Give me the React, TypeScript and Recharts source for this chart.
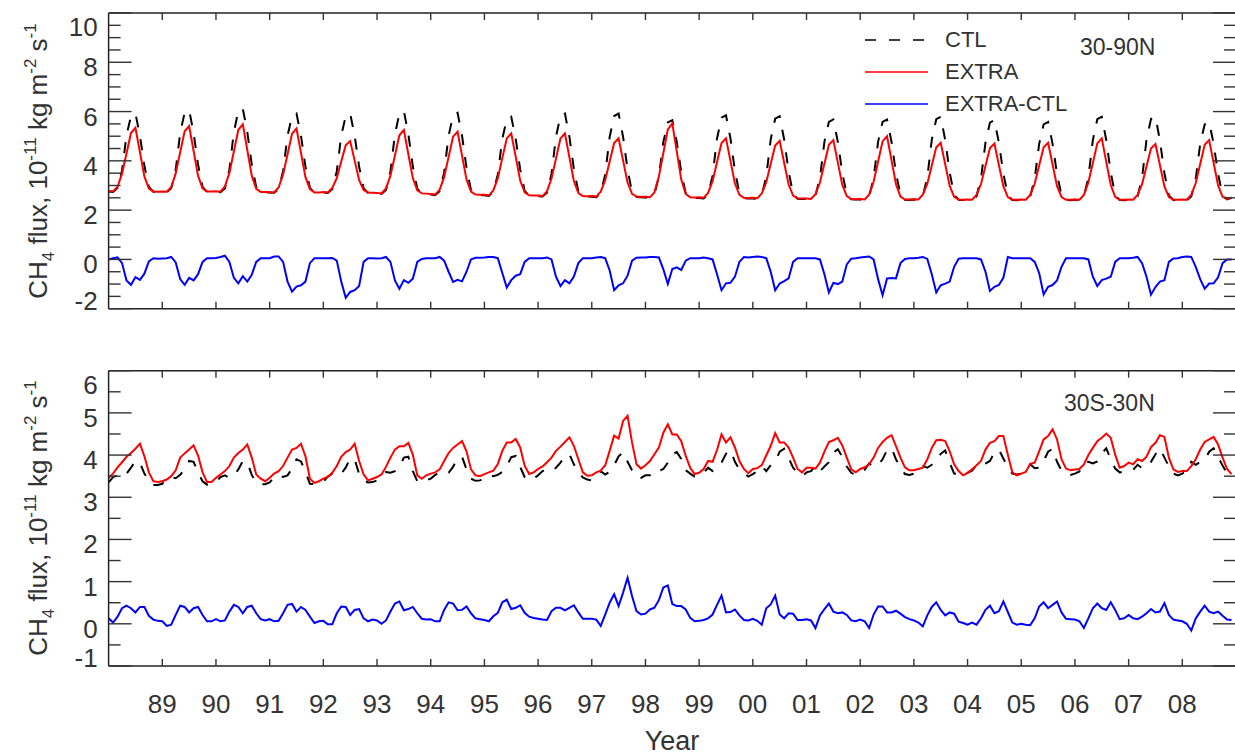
import React from 'react';
import { LineChart, Line, XAxis, YAxis, Legend } from 'recharts';

const YEARS = [1988, 1989, 1990, 1991, 1992, 1993, 1994, 1995, 1996, 1997, 1998, 1999, 2000, 2001, 2002, 2003, 2004, 2005, 2006, 2007, 2008];
const X_TICKS = [1989, 1990, 1991, 1992, 1993, 1994, 1995, 1996, 1997, 1998, 1999, 2000, 2001, 2002, 2003, 2004, 2005, 2006, 2007, 2008];
const X_LABELS = ['89', '90', '91', '92', '93', '94', '95', '96', '97', '98', '99', '00', '01', '02', '03', '04', '05', '06', '07', '08'];
const NORTH_Y_TICKS = [-2, -1.5, -1, -0.5, 0, 0.5, 1, 1.5, 2, 2.5, 3, 3.5, 4, 4.5, 5, 5.5, 6, 6.5, 7, 7.5, 8, 8.5, 9, 9.5, 10];
const TROP_Y_TICKS = [-1, -0.5, 0, 0.5, 1, 1.5, 2, 2.5, 3, 3.5, 4, 4.5, 5, 5.5, 6];

// 30-90N, one row per year, Jan..Dec
const northCtl = [
  [2.76, 2.74, 2.9, 3.61, 5.03, 5.82, 5.92, 5.03, 3.8, 2.94, 2.75, 2.74],
  [2.75, 2.73, 2.89, 3.64, 5.13, 5.96, 6.06, 5.13, 3.84, 2.94, 2.74, 2.74],
  [2.75, 2.73, 2.88, 3.65, 5.17, 6.02, 6.12, 5.17, 3.85, 2.93, 2.73, 2.72],
  [2.72, 2.71, 2.86, 3.58, 5.02, 5.82, 5.92, 5.02, 3.77, 2.9, 2.71, 2.7],
  [2.72, 2.7, 2.85, 3.57, 5.02, 5.82, 5.92, 5.02, 3.76, 2.89, 2.7, 2.69],
  [2.68, 2.66, 2.82, 3.57, 5.08, 5.92, 6.02, 5.08, 3.78, 2.87, 2.67, 2.66],
  [2.63, 2.61, 2.77, 3.52, 5.02, 5.85, 5.95, 5.02, 3.72, 2.82, 2.62, 2.61],
  [2.6, 2.58, 2.74, 3.45, 4.89, 5.69, 5.79, 4.89, 3.65, 2.78, 2.59, 2.58],
  [2.57, 2.55, 2.71, 3.47, 4.98, 5.82, 5.92, 4.98, 3.67, 2.76, 2.56, 2.55],
  [2.54, 2.52, 2.68, 3.45, 4.97, 5.82, 5.92, 4.97, 3.65, 2.73, 2.53, 2.52],
  [2.51, 2.49, 2.65, 3.35, 4.77, 5.56, 5.65, 4.77, 3.54, 2.69, 2.5, 2.49],
  [2.49, 2.47, 2.63, 3.39, 4.91, 5.75, 5.85, 4.91, 3.59, 2.68, 2.48, 2.47],
  [2.47, 2.45, 2.61, 3.36, 4.87, 5.71, 5.81, 4.87, 3.57, 2.66, 2.46, 2.45],
  [2.45, 2.43, 2.59, 3.31, 4.77, 5.58, 5.68, 4.77, 3.51, 2.63, 2.44, 2.43],
  [2.43, 2.41, 2.57, 3.3, 4.77, 5.58, 5.68, 4.77, 3.5, 2.62, 2.42, 2.41],
  [2.43, 2.41, 2.57, 3.33, 4.85, 5.69, 5.79, 4.85, 3.53, 2.62, 2.42, 2.41],
  [2.42, 2.4, 2.56, 3.28, 4.74, 5.55, 5.65, 4.74, 3.48, 2.6, 2.41, 2.4],
  [2.42, 2.4, 2.56, 3.27, 4.69, 5.48, 5.58, 4.69, 3.46, 2.6, 2.41, 2.4],
  [2.42, 2.4, 2.56, 3.32, 4.84, 5.69, 5.79, 4.84, 3.53, 2.61, 2.41, 2.4],
  [2.42, 2.4, 2.56, 3.3, 4.86, 5.7, 5.79, 4.82, 3.5, 2.6, 2.41, 2.4],
  [2.42, 2.4, 2.56, 3.27, 4.69, 5.48, 5.58, 4.69, 3.46, 2.6, 2.44, 2.5],
];

const northExtra = [
  [2.78, 2.76, 2.95, 3.48, 4.3, 5.13, 5.34, 4.36, 3.37, 2.87, 2.76, 2.75],
  [2.76, 2.75, 2.93, 3.49, 4.35, 5.2, 5.41, 4.4, 3.39, 2.88, 2.76, 2.76],
  [2.77, 2.75, 2.96, 3.51, 4.38, 5.26, 5.48, 4.44, 3.4, 2.86, 2.74, 2.74],
  [2.73, 2.72, 2.92, 3.45, 4.27, 5.1, 5.31, 4.33, 3.34, 2.85, 2.72, 2.72],
  [2.74, 2.72, 2.9, 3.3, 3.97, 4.63, 4.8, 4.01, 3.22, 2.82, 2.72, 2.71],
  [2.7, 2.68, 2.88, 3.4, 4.22, 5.04, 5.25, 4.27, 3.3, 2.8, 2.68, 2.67],
  [2.65, 2.63, 2.83, 3.34, 4.16, 4.98, 5.18, 4.21, 3.24, 2.75, 2.63, 2.62],
  [2.62, 2.6, 2.8, 3.3, 4.11, 4.91, 5.11, 4.16, 3.2, 2.72, 2.6, 2.59],
  [2.59, 2.57, 2.77, 3.28, 4.09, 4.91, 5.11, 4.14, 3.18, 2.69, 2.57, 2.56],
  [2.57, 2.55, 2.75, 3.21, 3.97, 4.72, 4.91, 4.01, 3.12, 2.66, 2.55, 2.54],
  [2.54, 2.52, 2.72, 3.36, 4.32, 5.28, 5.52, 4.38, 3.24, 2.66, 2.52, 2.51],
  [2.52, 2.5, 2.7, 3.17, 3.95, 4.72, 4.91, 3.99, 3.08, 2.62, 2.5, 2.49],
  [2.5, 2.48, 2.68, 3.13, 3.88, 4.62, 4.81, 3.92, 3.04, 2.59, 2.48, 2.47],
  [2.47, 2.45, 2.65, 3.12, 3.88, 4.65, 4.84, 3.93, 3.02, 2.57, 2.45, 2.44],
  [2.45, 2.43, 2.63, 3.15, 3.97, 4.79, 5.0, 4.02, 3.05, 2.55, 2.43, 2.43],
  [2.44, 2.43, 2.63, 3.07, 3.81, 4.55, 4.73, 3.86, 2.98, 2.54, 2.43, 2.42],
  [2.43, 2.42, 2.62, 3.06, 3.79, 4.52, 4.7, 3.83, 2.97, 2.53, 2.42, 2.42],
  [2.43, 2.42, 2.62, 3.07, 3.81, 4.55, 4.73, 3.85, 2.97, 2.53, 2.42, 2.42],
  [2.43, 2.42, 2.62, 3.12, 3.91, 4.71, 4.91, 3.96, 3.02, 2.54, 2.42, 2.42],
  [2.43, 2.42, 2.62, 3.05, 3.78, 4.5, 4.68, 3.82, 2.96, 2.53, 2.42, 2.42],
  [2.43, 2.42, 2.62, 3.1, 3.87, 4.65, 4.84, 3.92, 3.0, 2.54, 2.45, 2.5],
];

const northDiff = [
  [0.0, 0.05, 0.08, -0.15, -0.85, -1.03, -0.72, -0.83, -0.58, -0.08, 0.05, 0.03],
  [0.04, 0.05, 0.1, -0.12, -0.8, -1.03, -0.75, -0.85, -0.6, -0.1, 0.05, 0.05],
  [0.06, 0.1, 0.15, -0.1, -0.75, -0.97, -0.68, -0.9, -0.62, -0.1, 0.05, 0.05],
  [0.05, 0.12, 0.12, -0.1, -0.9, -1.31, -1.1, -1.05, -0.9, -0.15, 0.05, 0.05],
  [0.05, 0.05, 0.06, -0.05, -0.9, -1.56, -1.32, -1.25, -1.08, -0.1, 0.05, 0.05],
  [0.04, 0.05, 0.1, -0.1, -0.85, -1.19, -0.84, -0.95, -0.78, -0.1, 0.02, 0.05],
  [0.05, 0.05, 0.1, -0.05, -0.5, -0.91, -0.83, -0.89, -0.5, 0.0, 0.07, 0.07],
  [0.08, 0.1, 0.1, 0.05, -0.55, -1.14, -0.84, -0.66, -0.6, -0.1, 0.05, 0.05],
  [0.05, 0.05, 0.08, 0.0, -0.7, -1.08, -0.84, -0.97, -0.7, -0.15, 0.05, 0.05],
  [0.05, 0.08, 0.1, 0.05, -0.45, -1.25, -1.05, -0.97, -0.66, -0.05, 0.07, 0.08],
  [0.08, 0.1, 0.1, 0.08, -0.4, -1.0, -0.39, -0.32, -0.43, -0.05, 0.05, 0.05],
  [0.05, 0.08, 0.05, 0.0, -0.6, -1.25, -0.97, -0.95, -0.7, -0.1, 0.1, 0.08],
  [0.1, 0.12, 0.1, 0.05, -0.5, -1.25, -0.98, -0.88, -0.77, -0.1, 0.05, 0.05],
  [0.05, 0.05, 0.05, 0.0, -0.6, -1.34, -0.95, -1.0, -0.9, -0.2, 0.03, 0.05],
  [0.08, 0.1, 0.12, 0.0, -0.8, -1.45, -0.77, -0.75, -0.77, -0.15, 0.02, 0.05],
  [0.05, 0.07, 0.1, 0.02, -0.6, -1.34, -1.05, -0.98, -0.9, -0.3, 0.03, 0.05],
  [0.05, 0.05, 0.05, 0.0, -0.5, -1.28, -1.11, -1.04, -0.75, 0.1, 0.05, 0.05],
  [0.05, 0.05, 0.05, -0.1, -0.55, -1.42, -1.11, -1.04, -0.85, -0.3, 0.05, 0.05],
  [0.05, 0.05, 0.05, 0.0, -0.7, -1.08, -0.84, -0.78, -0.7, -0.1, 0.05, 0.05],
  [0.05, 0.07, 0.1, -0.15, -0.7, -1.43, -1.12, -0.9, -0.84, -0.1, 0.04, 0.05],
  [0.1, 0.12, 0.1, -0.3, -0.8, -1.19, -0.98, -0.97, -0.73, -0.15, 0.0, 0.0],
];

// 30S-30N
const tropCtl = [
  [3.35, 3.48, 3.52, 3.48, 3.56, 3.7, 3.86, 3.82, 3.56, 3.4, 3.29, 3.29],
  [3.32, 3.44, 3.48, 3.45, 3.53, 3.66, 3.86, 3.84, 3.58, 3.38, 3.3, 3.31],
  [3.36, 3.48, 3.52, 3.46, 3.51, 3.66, 3.86, 3.83, 3.53, 3.34, 3.31, 3.31],
  [3.35, 3.48, 3.53, 3.48, 3.52, 3.68, 3.9, 3.85, 3.6, 3.32, 3.31, 3.33],
  [3.37, 3.49, 3.56, 3.5, 3.56, 3.7, 3.92, 3.9, 3.55, 3.4, 3.35, 3.36],
  [3.4, 3.52, 3.6, 3.58, 3.62, 3.72, 3.94, 3.96, 3.62, 3.38, 3.35, 3.4],
  [3.44, 3.53, 3.58, 3.54, 3.58, 3.72, 3.93, 3.96, 3.66, 3.44, 3.39, 3.4],
  [3.46, 3.53, 3.5, 3.53, 3.6, 3.74, 3.95, 3.98, 3.72, 3.48, 3.4, 3.44],
  [3.52, 3.62, 3.66, 3.62, 3.7, 3.82, 3.98, 4.02, 3.78, 3.6, 3.47, 3.42],
  [3.4, 3.49, 3.62, 3.54, 3.6, 3.76, 3.97, 4.07, 3.84, 3.64, 3.48, 3.46],
  [3.52, 3.52, 3.64, 3.62, 3.67, 3.82, 4.02, 4.07, 3.91, 3.64, 3.56, 3.49],
  [3.51, 3.58, 3.7, 3.62, 3.67, 3.82, 4.03, 4.12, 3.84, 3.66, 3.58, 3.49],
  [3.55, 3.62, 3.74, 3.62, 3.76, 3.85, 4.08, 4.15, 3.93, 3.7, 3.58, 3.5],
  [3.59, 3.62, 3.74, 3.62, 3.73, 3.83, 4.06, 4.14, 3.96, 3.73, 3.58, 3.53],
  [3.57, 3.65, 3.8, 3.72, 3.76, 3.9, 4.12, 4.17, 3.9, 3.7, 3.55, 3.53],
  [3.56, 3.64, 3.74, 3.7, 3.77, 3.84, 4.03, 4.11, 3.82, 3.56, 3.55, 3.5],
  [3.58, 3.63, 3.76, 3.73, 3.8, 3.86, 4.06, 4.13, 3.92, 3.72, 3.56, 3.54],
  [3.56, 3.62, 3.78, 3.69, 3.7, 3.86, 4.08, 4.15, 3.84, 3.63, 3.56, 3.53],
  [3.56, 3.61, 3.82, 3.84, 3.8, 3.85, 4.04, 4.16, 3.9, 3.68, 3.59, 3.61],
  [3.61, 3.65, 3.77, 3.69, 3.71, 3.84, 4.02, 4.16, 3.94, 3.73, 3.56, 3.52],
  [3.56, 3.62, 3.84, 3.77, 3.84, 3.88, 4.08, 4.16, 3.96, 3.75, 3.57, 3.48],
];

const tropExtra = [
  [3.46, 3.56, 3.71, 3.83, 3.96, 4.05, 4.15, 4.27, 3.97, 3.59, 3.38, 3.36],
  [3.38, 3.42, 3.5, 3.64, 3.94, 4.04, 4.13, 4.23, 3.99, 3.59, 3.36, 3.36],
  [3.46, 3.54, 3.62, 3.74, 3.94, 4.05, 4.13, 4.25, 3.94, 3.54, 3.44, 3.38],
  [3.46, 3.56, 3.62, 3.74, 3.94, 4.13, 4.17, 4.27, 3.97, 3.44, 3.34, 3.38],
  [3.44, 3.48, 3.58, 3.74, 3.96, 4.07, 4.13, 4.27, 3.86, 3.54, 3.4, 3.44],
  [3.48, 3.54, 3.72, 3.94, 4.13, 4.21, 4.21, 4.29, 4.01, 3.52, 3.44, 3.52],
  [3.56, 3.59, 3.66, 3.86, 4.05, 4.17, 4.25, 4.33, 4.09, 3.66, 3.52, 3.5],
  [3.55, 3.59, 3.63, 3.79, 4.1, 4.3, 4.3, 4.38, 4.18, 3.75, 3.55, 3.59],
  [3.67, 3.73, 3.83, 3.94, 4.1, 4.2, 4.31, 4.42, 4.22, 3.9, 3.59, 3.51],
  [3.52, 3.59, 3.63, 3.76, 4.1, 4.46, 4.39, 4.81, 4.93, 4.3, 3.78, 3.68],
  [3.76, 3.86, 4.02, 4.18, 4.53, 4.73, 4.49, 4.49, 4.33, 3.98, 3.7, 3.55],
  [3.58, 3.67, 3.86, 3.84, 4.12, 4.49, 4.3, 4.42, 4.18, 3.86, 3.67, 3.57],
  [3.67, 3.69, 3.76, 3.99, 4.22, 4.52, 4.3, 4.3, 4.18, 3.94, 3.67, 3.59],
  [3.7, 3.7, 3.68, 3.82, 4.08, 4.31, 4.35, 4.41, 4.23, 3.94, 3.66, 3.59],
  [3.67, 3.71, 3.78, 3.94, 4.17, 4.31, 4.41, 4.47, 4.21, 3.94, 3.71, 3.64],
  [3.64, 3.67, 3.7, 3.9, 4.17, 4.35, 4.36, 4.33, 4.09, 3.78, 3.62, 3.52],
  [3.58, 3.66, 3.76, 3.86, 4.13, 4.29, 4.33, 4.45, 4.45, 4.01, 3.59, 3.52],
  [3.56, 3.6, 3.79, 3.82, 4.09, 4.37, 4.45, 4.61, 4.37, 3.9, 3.68, 3.64],
  [3.66, 3.67, 3.78, 4.0, 4.17, 4.33, 4.41, 4.51, 4.41, 4.01, 3.7, 3.74],
  [3.82, 3.78, 3.9, 3.86, 3.96, 4.19, 4.29, 4.47, 4.43, 3.94, 3.66, 3.6],
  [3.62, 3.62, 3.74, 3.9, 4.13, 4.31, 4.37, 4.43, 4.25, 3.94, 3.67, 3.55],
];

const tropDiff = [
  [0.13, 0.03, 0.17, 0.37, 0.43, 0.37, 0.27, 0.4, 0.4, 0.19, 0.1, 0.07],
  [0.06, -0.05, -0.02, 0.21, 0.43, 0.4, 0.27, 0.37, 0.4, 0.21, 0.06, 0.06],
  [0.11, 0.06, 0.08, 0.29, 0.45, 0.4, 0.25, 0.4, 0.43, 0.25, 0.11, 0.08],
  [0.11, 0.06, 0.07, 0.25, 0.45, 0.47, 0.29, 0.4, 0.33, 0.17, 0.02, 0.06],
  [0.07, -0.01, -0.01, 0.25, 0.41, 0.4, 0.21, 0.33, 0.35, 0.13, 0.06, 0.1],
  [0.08, 0.0, 0.08, 0.29, 0.48, 0.53, 0.32, 0.35, 0.4, 0.25, 0.12, 0.1],
  [0.11, 0.06, 0.06, 0.33, 0.51, 0.48, 0.32, 0.33, 0.41, 0.25, 0.13, 0.11],
  [0.09, 0.06, 0.18, 0.26, 0.51, 0.57, 0.35, 0.38, 0.44, 0.26, 0.17, 0.14],
  [0.12, 0.1, 0.09, 0.3, 0.38, 0.38, 0.32, 0.38, 0.44, 0.27, 0.12, 0.12],
  [0.12, 0.1, -0.05, 0.22, 0.5, 0.7, 0.42, 0.74, 1.09, 0.66, 0.3, 0.22],
  [0.24, 0.34, 0.38, 0.56, 0.86, 0.91, 0.47, 0.42, 0.42, 0.34, 0.14, 0.06],
  [0.07, 0.09, 0.13, 0.22, 0.45, 0.67, 0.27, 0.28, 0.34, 0.2, 0.09, 0.08],
  [0.12, 0.07, -0.02, 0.37, 0.46, 0.67, 0.22, 0.13, 0.25, 0.24, 0.09, 0.09],
  [0.11, 0.08, -0.1, 0.2, 0.35, 0.48, 0.29, 0.25, 0.27, 0.21, 0.08, 0.06],
  [0.1, 0.06, -0.1, 0.22, 0.41, 0.41, 0.27, 0.27, 0.31, 0.24, 0.16, 0.11],
  [0.08, 0.03, -0.06, 0.2, 0.4, 0.51, 0.33, 0.2, 0.27, 0.24, 0.05, 0.02],
  [-0.02, 0.03, -0.02, 0.13, 0.33, 0.43, 0.25, 0.3, 0.53, 0.28, 0.03, -0.02],
  [0.0, -0.02, -0.03, 0.13, 0.41, 0.51, 0.37, 0.45, 0.53, 0.27, 0.12, 0.11],
  [0.1, 0.06, -0.1, 0.13, 0.37, 0.48, 0.37, 0.33, 0.51, 0.33, 0.11, 0.13],
  [0.21, 0.13, 0.11, 0.17, 0.25, 0.35, 0.27, 0.29, 0.49, 0.21, 0.1, 0.08],
  [0.06, 0.0, -0.16, 0.13, 0.29, 0.43, 0.29, 0.25, 0.29, 0.19, 0.1, 0.09],
];

const FONT = '"Liberation Sans", Arial, Helvetica, sans-serif';
const INK = '#333';
const DASH = '11 12';

const buildRows = (ctl: number[][], extra: number[][], diff: number[][]) =>
  YEARS.flatMap((yr, i) =>
    ctl[i].map((_, k) => ({ t: yr + k / 12, ctl: ctl[i][k], extra: extra[i][k], diff: diff[i][k] }))
  );

const northRows = buildRows(northCtl, northExtra, northDiff);
const tropRows = buildRows(tropCtl, tropExtra, tropDiff);

// y ticks point into the plot; labels only on the left, majors only
const makeYTick = (side: 'left' | 'right', step: number, lo: number, hi: number) => (props: any) => {
  const { x, y, payload } = props;
  const v = payload.value;
  const major = Math.abs(v / step - Math.round(v / step)) < 1e-6;
  const len = major ? 23 : 12;
  const dir = side === 'left' ? 1 : -1;
  let dy = 14;
  if (v === hi) dy = 23;
  if (v === lo) dy = 1;
  return (
    <g>
      <line x1={x} x2={x + dir * len} y1={y} y2={y} stroke={INK} strokeWidth={1.4} />
      {side === 'left' && major ? (
        <text x={x - 11} y={y + dy} textAnchor="end" fontSize={26} fontFamily={FONT} fill={INK}>
          {v}
        </text>
      ) : null}
    </g>
  );
};

const makeXTick = (side: 'top' | 'bottom', withLabels: boolean) => (props: any) => {
  const { x, y, payload } = props;
  const dir = side === 'bottom' ? -1 : 1;
  const idx = X_TICKS.indexOf(payload.value);
  return (
    <g>
      <line x1={x} x2={x} y1={y} y2={y + dir * 7} stroke={INK} strokeWidth={1.4} />
      {withLabels && idx >= 0 ? (
        <text x={x} y={y + 46.5} textAnchor="middle" fontSize={26} fontFamily={FONT} fill={INK}>
          {X_LABELS[idx]}
        </text>
      ) : null}
    </g>
  );
};

const LegendBox = (props: any) => {
  const dashes: Record<string, string | undefined> = { ctl: '11 13', extra: undefined, diff: undefined };
  return (
    <div style={{ fontFamily: FONT, fontSize: 22, color: INK }}>
      {(props.payload || []).map((e: any) => (
        <div key={e.value} style={{ display: 'flex', alignItems: 'center', height: 32 }}>
          <svg width={80} height={6} style={{ display: 'block' }}>
            <line x1={0} x2={63} y1={3} y2={3} stroke={e.color} strokeWidth={1.6} strokeDasharray={dashes[e.dataKey]} />
          </svg>
          <span>{e.value}</span>
        </div>
      ))}
    </div>
  );
};

const axisLine = { stroke: '#222', strokeWidth: 1.5 };

const Panel = ({ rows, domain, ticks, step, height, topH, bottomH, labels, legend }: any) => (
  <LineChart width={1237} height={height} data={rows} margin={{ top: 0, right: 0, bottom: 0, left: 0 }}>
    <XAxis xAxisId="b" dataKey="t" type="number" domain={[1988, 2009]} ticks={X_TICKS} interval={0}
      allowDataOverflow orientation="bottom" height={bottomH} tickSize={0} tickMargin={0} tickLine={false}
      axisLine={axisLine} tick={makeXTick('bottom', labels)} />
    <XAxis xAxisId="t" dataKey="t" type="number" domain={[1988, 2009]} ticks={X_TICKS} interval={0}
      allowDataOverflow orientation="top" height={topH} tickSize={0} tickMargin={0} tickLine={false}
      axisLine={axisLine} tick={makeXTick('top', false)} />
    <YAxis yAxisId="l" type="number" domain={domain} ticks={ticks} interval={0} allowDataOverflow
      width={108.6} tickSize={0} tickMargin={0} tickLine={false} axisLine={axisLine}
      tick={makeYTick('left', step, domain[0], domain[1])} />
    <YAxis yAxisId="r" orientation="right" type="number" domain={domain} ticks={ticks} interval={0} allowDataOverflow
      width={1} tickSize={0} tickMargin={0} tickLine={false} axisLine={axisLine}
      tick={makeYTick('right', step, domain[0], domain[1])} />
    {legend ? (
      <Legend layout="vertical" align="center" verticalAlign="middle" content={<LegendBox />}
        wrapperStyle={{ left: 865, top: 24, width: 'auto' }} />
    ) : null}
    <Line xAxisId="b" yAxisId="l" type="linear" dataKey="ctl" name="CTL" stroke="#000" strokeWidth={2}
      strokeDasharray={DASH} dot={false} isAnimationActive={false} />
    <Line xAxisId="b" yAxisId="l" type="linear" dataKey="extra" name="EXTRA" stroke="#ff0000" strokeWidth={2}
      dot={false} isAnimationActive={false} />
    <Line xAxisId="b" yAxisId="l" type="linear" dataKey="diff" name="EXTRA-CTL" stroke="#0000ff" strokeWidth={2}
      dot={false} isAnimationActive={false} />
  </LineChart>
);

const YTitle = ({ cy }: { cy: number }) => (
  <text transform={`translate(47, ${cy}) rotate(-90)`} textAnchor="middle" fontSize={26} fontFamily={FONT} fill={INK}>
    CH<tspan dy={7} fontSize={17}>4</tspan>
    <tspan dy={-7}> flux, 10</tspan>
    <tspan dy={-11} fontSize={17}>-11</tspan>
    <tspan dy={11}> kg m</tspan>
    <tspan dy={-11} fontSize={17}>-2</tspan>
    <tspan dy={11}> s</tspan>
    <tspan dy={-11} fontSize={17}>-1</tspan>
  </text>
);

export default function App() {
  return (
    <div style={{ position: 'absolute', left: 0, top: 0, width: 1235, height: 756, overflow: 'hidden', background: '#fff' }}>
      <div style={{ position: 'absolute', left: 0, top: 0 }}>
        <Panel rows={northRows} domain={[-2, 10]} ticks={NORTH_Y_TICKS} step={2} height={340}
          topH={13} bottomH={31.3} labels={false} legend />
      </div>
      <div style={{ position: 'absolute', left: 0, top: 340 }}>
        <Panel rows={tropRows} domain={[-1, 6]} ticks={TROP_Y_TICKS} step={1} height={416}
          topH={30.7} bottomH={90} labels legend={false} />
      </div>
      <svg width={1235} height={756} style={{ position: 'absolute', left: 0, top: 0, pointerEvents: 'none' }}>
        <YTitle cy={161} />
        <YTitle cy={518} />
        <text x={1080} y={55} fontSize={23} fontFamily={FONT} fill={INK}>30-90N</text>
        <text x={1064} y={411} fontSize={23} fontFamily={FONT} fill={INK}>30S-30N</text>
        <text x={672} y={750} textAnchor="middle" fontSize={27} fontFamily={FONT} fill={INK}>Year</text>
      </svg>
    </div>
  );
}
